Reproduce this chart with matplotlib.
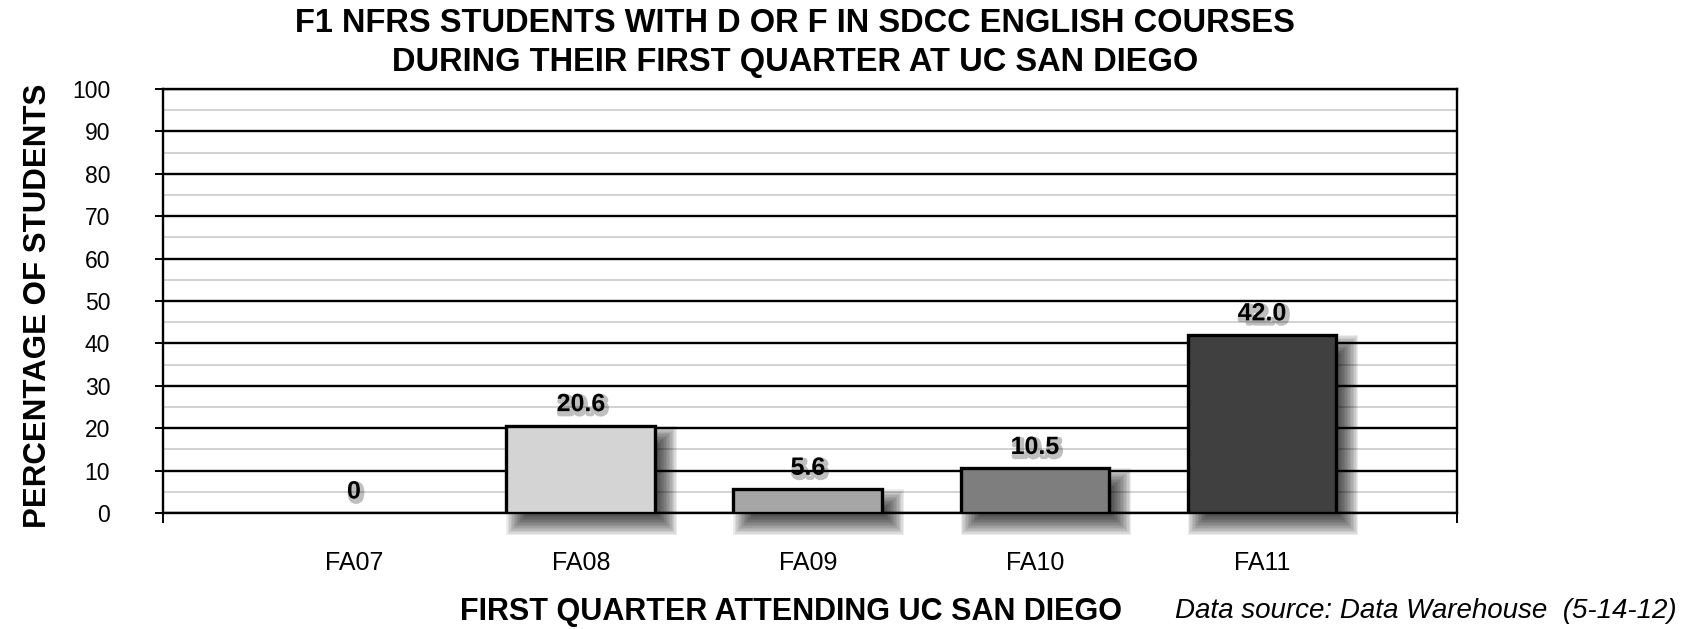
import numpy as np
import matplotlib
matplotlib.use('Agg')
import matplotlib.pyplot as plt
import matplotlib.patheffects as pe
from matplotlib.patches import Rectangle
from matplotlib.transforms import ScaledTranslation, blended_transform_factory

# chart data
quarters = ['FA07', 'FA08', 'FA09', 'FA10', 'FA11']
pct_students = [0, 20.6, 5.6, 10.5, 42.0]
value_labels = ['0', '20.6', '5.6', '10.5', '42.0']
bar_colors = ['#ffffff', '#d4d4d4', '#a6a6a6', '#7e7e7e', '#404040']
y_ticks = list(range(0, 101, 10))

title_lines = ['F1 NFRS STUDENTS WITH D OR F IN SDCC ENGLISH COURSES',
               'DURING THEIR FIRST QUARTER AT UC SAN DIEGO']

plt.rcParams['font.family'] = ['Liberation Sans', 'DejaVu Sans']

W, H, DPI = 1699, 629, 100
fig = plt.figure(figsize=(W / DPI, H / DPI), dpi=DPI)
fig.patch.set_facecolor('white')

# axes box (pixels): left 163, right 1457, top 89, bottom 513
ax = fig.add_axes([163 / W, 1 - 513 / H, (1457 - 163) / W, (513 - 89) / H])
xmin, xmax = -0.841, 4.859
ax.set_xlim(xmin, xmax)
ax.set_ylim(0, 100)

# grid
ax.set_yticks(y_ticks)
ax.set_yticks(np.arange(5, 100, 10), minor=True)
ax.yaxis.grid(True, which='major', color='black', lw=1.7, zorder=1)
ax.yaxis.grid(True, which='minor', color='#cfcfcf', lw=1.3, zorder=1)
ax.set_axisbelow(True)
for s in ax.spines.values():
    s.set_linewidth(1.7)
    s.set_color('black')

ax.tick_params(axis='y', which='major', direction='inout', length=12, width=1.4,
               labelsize=16.5, pad=32)
ax.tick_params(axis='y', which='minor', length=0)
ax.set_xticks([xmin, xmax])
ax.set_xticklabels([])
ax.tick_params(axis='x', direction='out', length=7, width=1.4)

# soft drop shadows, then bars
bar_w = 0.656
px_x = (1457 - 163) / (xmax - xmin)
px_y = (513 - 89) / 100.0
shadow_off = ScaledTranslation(11 / DPI, -11 / DPI, fig.dpi_scale_trans)
blur = 11
n_layers = 16
for i, v in enumerate(pct_students):
    if v > 0:
        for k in range(n_layers):
            p = blur * (1 - 2 * k / (n_layers - 1))
            dx, dy = p / px_x, p / px_y
            ax.add_patch(Rectangle((i - bar_w / 2 - dx, -dy), bar_w + 2 * dx, v + 2 * dy,
                                   facecolor='black', edgecolor='none', alpha=0.075,
                                   transform=ax.transData + shadow_off,
                                   clip_on=False, zorder=2))
edge_w = [2.4 if v > 0 else 0 for v in pct_students]
ax.bar(range(len(quarters)), pct_students, width=bar_w, color=bar_colors,
       edgecolor='black', linewidth=edge_w, zorder=3)

# value labels with soft shadow
for i, (v, lab) in enumerate(zip(pct_students, value_labels)):
    ax.annotate(lab, (i, v), xytext=(0, 15.5), textcoords='offset points',
                ha='center', va='center', fontsize=18, fontweight='bold', zorder=5,
                path_effects=[pe.SimpleLineShadow(offset=(1.5, -2), shadow_color='black',
                                                  alpha=0.25, linewidth=3.5),
                              pe.Normal()])

# category labels
trans = blended_transform_factory(ax.transData, ax.transAxes)
for i, q in enumerate(quarters):
    ax.text(i, -50 / (513 - 89), q, transform=trans, ha='center', va='center', fontsize=18)

# titles and axis labels
fig.text(795 / W, 1 - 24 / H, title_lines[0], ha='center', va='center',
         fontsize=23.5, fontweight='bold')
fig.text(795 / W, 1 - 62 / H, title_lines[1], ha='center', va='center',
         fontsize=23.5, fontweight='bold')
fig.text(38 / W, 1 - 306 / H, 'PERCENTAGE OF STUDENTS', rotation=90, ha='center',
         va='center', fontsize=22.5, fontweight='bold')
fig.text(791 / W, 1 - 612 / H, 'FIRST QUARTER ATTENDING UC SAN DIEGO', ha='center',
         va='center', fontsize=22, fontweight='bold')
fig.text(1175 / W, 1 - 611 / H, 'Data source: Data Warehouse  (5-14-12)', ha='left',
         va='center', fontsize=20, fontstyle='italic')

fig.savefig('out.png', dpi=DPI, facecolor='white')
